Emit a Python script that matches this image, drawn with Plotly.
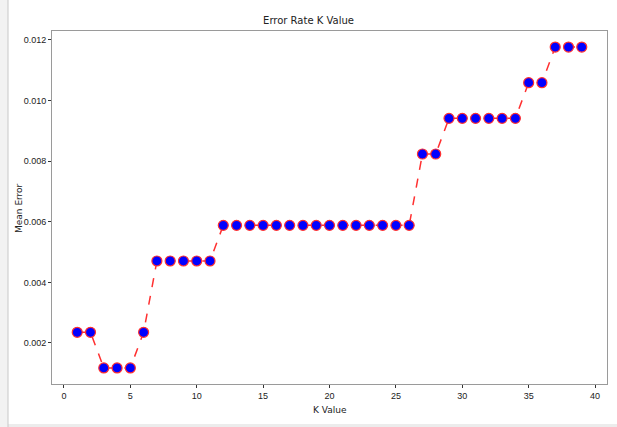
import plotly.graph_objects as go

k_values = list(range(1, 40))
mean_error = [
    0.002353, 0.002353, 0.001176, 0.001176, 0.001176, 0.002353,
    0.004706, 0.004706, 0.004706, 0.004706, 0.004706,
    0.005882, 0.005882, 0.005882, 0.005882, 0.005882, 0.005882, 0.005882,
    0.005882, 0.005882, 0.005882, 0.005882, 0.005882, 0.005882, 0.005882, 0.005882,
    0.008235, 0.008235,
    0.009412, 0.009412, 0.009412, 0.009412, 0.009412, 0.009412,
    0.010588, 0.010588,
    0.011765, 0.011765, 0.011765,
]
x_ticks = [0, 5, 10, 15, 20, 25, 30, 35, 40]
y_ticks = [0.002, 0.004, 0.006, 0.008, 0.010, 0.012]
y_tick_labels = ["0.002", "0.004", "0.006", "0.008", "0.010", "0.012"]

fig = go.Figure()
fig.add_trace(go.Scatter(
    x=k_values, y=mean_error, mode="lines+markers",
    line=dict(color="#ff3030", dash="dash", width=1.5),
    marker=dict(color="#0000ff", size=10, line=dict(color="#ff3030", width=1.2)),
))

axis_common = dict(
    showgrid=False, zeroline=False, showline=True, linecolor="#9a9a9a",
    linewidth=1, mirror=True, ticks="outside", ticklen=3, tickcolor="#333",
    automargin=False,
    tickfont=dict(family="Liberation Sans Narrow, Liberation Sans", size=9, color="#222"),
)
PW, PH = 555, 353
fig.update_layout(
    width=617, height=427,
    paper_bgcolor="white", plot_bgcolor="white",
    margin=dict(l=52, r=10, t=31, b=43, autoexpand=False),
    showlegend=False,
    title=dict(text="Error Rate K Value", x=0.5, xanchor="center", y=1 - 20 / 427, yanchor="middle",
               font=dict(family="DejaVu Sans", size=10, color="#222")),
    xaxis=dict(range=[-0.9, 40.9], tickvals=x_ticks, **axis_common),
    yaxis=dict(range=[0.000647, 0.012294], tickvals=y_ticks, ticktext=y_tick_labels, **axis_common),
    annotations=[
        dict(text="K Value", xref="paper", yref="paper", x=0.5, y=-(410 - 384) / PH,
             xanchor="center", yanchor="middle", showarrow=False,
             font=dict(family="DejaVu Sans", size=9, color="#222")),
        dict(text="Mean Error", xref="paper", yref="paper", x=-(52 - 19) / PW, y=(384 - 208) / PH,
             xanchor="center", yanchor="middle", textangle=-90, showarrow=False,
             font=dict(family="DejaVu Sans", size=9, color="#222")),
    ],
    shapes=[
        dict(type="rect", xref="paper", yref="paper", x0=-52/PW, x1=-44/PW, y0=-1, y1=2,
             fillcolor="#f2f2f2", line=dict(width=0), layer="below"),
        dict(type="line", xref="paper", yref="paper", x0=-44/PW, x1=-44/PW, y0=-1, y1=2,
             line=dict(color="#c8c8c8", width=1)),
        dict(type="rect", xref="paper", yref="paper", x0=-44/PW, x1=2, y0=-43/PH, y1=-40/PH,
             fillcolor="#ececec", line=dict(width=0), layer="below"),
    ],
)
fig.write_html("out.html", config={"displayModeBar": False},
               post_script="document.body.style.margin='0';")
